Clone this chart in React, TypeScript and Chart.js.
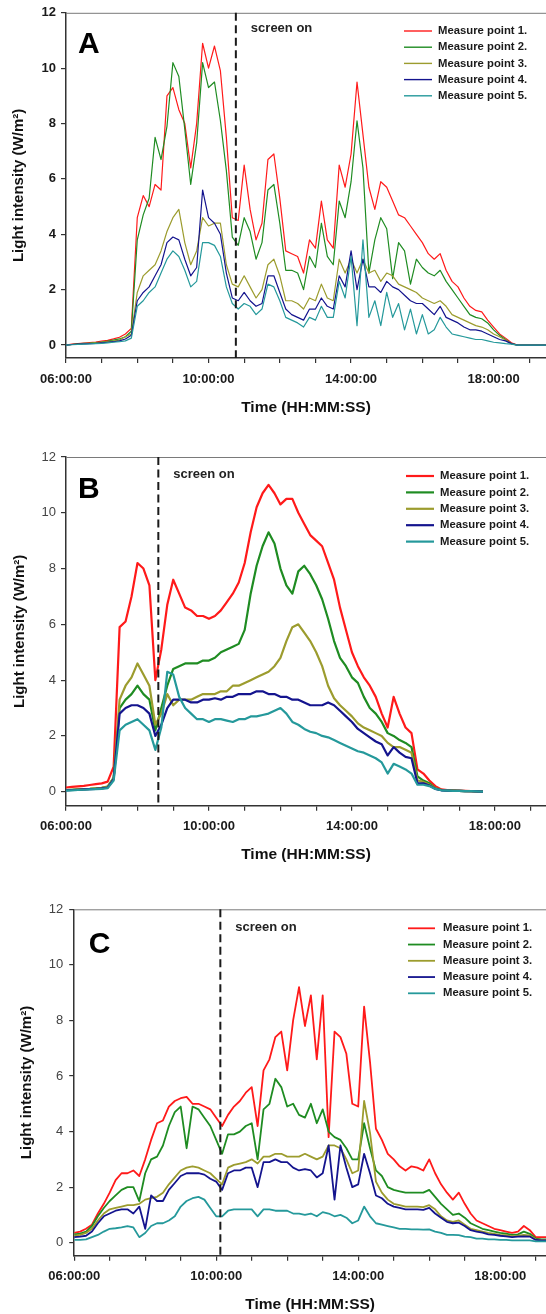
import React, { useEffect, useRef } from "react";
import { Chart, registerables } from "chart.js";

Chart.register(...registerables);
Chart.defaults.font.family = "'Liberation Sans', Arial, Helvetica, sans-serif";

// ---------- shared labels ----------
const SERIES_NAMES = [
  "Measure point 1.",
  "Measure point 2.",
  "Measure point 3.",
  "Measure point 4.",
  "Measure point 5.",
];
const X_TICK_HOURS = [6, 10, 14, 18];
const X_TICK_LABELS = ["06:00:00", "10:00:00", "14:00:00", "18:00:00"];
const X_TITLE = "Time (HH:MM:SS)";
const Y_TITLE = "Light intensity (W/m\u00B2)";
const SCREEN_TEXT = "screen on";

// sampling grid: 10-minute steps starting 06:00 (hours)
const TIMES_A = Array.from({ length: 82 }, (_, i) => 6 + i / 6); // 06:00 .. 19:30
const TIMES_B = Array.from({ length: 71 }, (_, i) => 6 + i / 6); // 06:00 .. 17:40
const TIMES_C = Array.from({ length: 82 }, (_, i) => 6 + i / 6); // 06:00 .. 19:30

// "screen on" moments (hours)
const SCREEN_ON_A = 10 + 46 / 60;
const SCREEN_ON_B = 8 + 35 / 60;
const SCREEN_ON_C = 10 + 7 / 60;

// ---------- Panel A (W/m2) ----------
const A_P1 = [
  0.0, 0.03, 0.05, 0.07, 0.09, 0.11,
  0.14, 0.17, 0.22, 0.28, 0.4, 0.6,
  4.6, 5.4, 5.0, 5.8, 5.6, 9.0,
  9.3, 8.5, 8.0, 6.4, 8.0, 10.9,
  10.0, 10.8, 9.9, 7.5, 4.6, 4.5,
  6.5, 4.9, 3.8, 4.4, 6.7, 6.9,
  5.3, 3.4, 3.3, 3.2, 2.6, 3.8,
  3.5, 5.2, 3.8, 3.5, 6.5, 5.7,
  6.9, 9.5, 7.6, 5.7, 4.9, 5.9,
  5.7, 5.2, 4.7, 4.6, 4.3, 4.0,
  3.7, 3.3, 3.1, 3.3, 2.7, 2.3,
  2.1, 1.7, 1.4, 1.25, 1.2, 0.9,
  0.65, 0.4, 0.25, 0.08, 0.0, 0.0,
  0.0, 0.0, 0.0, 0.0,
];
const A_P2 = [
  0.0, 0.02, 0.04, 0.06, 0.07, 0.09,
  0.11, 0.14, 0.18, 0.22, 0.3, 0.5,
  3.8, 4.7, 5.3, 7.5, 6.7, 7.9,
  10.2, 9.7, 7.8, 5.8, 7.3, 10.2,
  9.3, 9.5, 8.1, 6.3, 3.9, 3.6,
  4.6, 4.1, 3.1, 3.7, 5.6, 5.8,
  4.4, 2.7, 2.7, 2.6, 2.0, 3.2,
  2.8, 4.4, 3.2, 2.9, 5.2, 4.6,
  5.9, 8.1, 6.4, 2.6, 3.8, 4.6,
  4.2, 2.4, 3.7, 3.4, 2.2, 3.1,
  2.8, 2.6, 2.5, 2.7, 2.3, 2.0,
  1.7, 1.4, 1.1, 1.0, 0.95, 0.8,
  0.55, 0.35, 0.2, 0.05, 0.0, 0.0,
  0.0, 0.0, 0.0, 0.0,
];
const A_P3 = [
  0.0, 0.02, 0.03, 0.05, 0.06, 0.08,
  0.1, 0.12, 0.15, 0.18, 0.3, 0.4,
  1.9, 2.5, 2.7, 2.9, 3.4, 4.1,
  4.6, 4.9, 3.7, 2.9, 3.4, 4.6,
  4.3, 4.4, 4.4, 2.9, 2.2, 2.1,
  2.5, 2.1, 1.7, 2.0, 2.9, 3.1,
  2.5, 1.6, 1.6, 1.5, 1.3, 1.7,
  1.6, 2.2, 1.7, 1.6, 3.1, 2.6,
  3.1, 2.6, 3.1, 2.6, 2.7, 2.3,
  2.6, 2.5, 2.2, 2.1, 2.0, 1.9,
  1.7, 1.6, 1.5, 1.6, 1.4, 1.1,
  1.0, 0.9, 0.8, 0.7, 0.65, 0.55,
  0.4, 0.3, 0.18, 0.05, 0.0, 0.0,
  0.0, 0.0, 0.0, 0.0,
];
const A_P4 = [
  0.0, 0.02, 0.03, 0.04, 0.05, 0.06,
  0.08, 0.1, 0.12, 0.15, 0.22, 0.35,
  1.6, 1.9, 2.1, 2.5, 2.9, 3.7,
  3.9, 3.8, 3.1, 2.5, 2.8, 5.6,
  4.6, 4.4, 4.0, 2.6, 1.7, 1.6,
  1.9, 1.6, 1.4, 1.5, 2.5, 2.5,
  1.9, 1.3, 1.1, 1.0, 0.9, 1.3,
  1.3, 1.7, 1.4, 1.3, 2.5, 2.1,
  3.4, 2.0, 3.1, 2.1, 2.1, 1.9,
  2.3, 2.1, 2.0, 1.8, 1.6, 1.5,
  1.5, 1.3, 1.1, 1.4, 1.0, 0.9,
  0.8, 0.65, 0.55, 0.55, 0.5, 0.4,
  0.3, 0.2, 0.15, 0.05, 0.0, 0.0,
  0.0, 0.0, 0.0, 0.0,
];
const A_P5 = [
  0.0, 0.01, 0.02, 0.03, 0.04, 0.05,
  0.06, 0.08, 0.1, 0.12, 0.15, 0.25,
  1.4, 1.6, 1.9, 2.1, 2.6, 3.1,
  3.4, 3.2, 2.7, 2.1, 2.3, 3.7,
  3.7, 3.6, 3.2, 2.1, 1.5, 1.3,
  1.5, 1.4, 1.1, 1.3, 2.2, 2.1,
  1.6, 1.0, 0.9, 0.8, 0.65, 1.0,
  0.9, 1.4, 1.0, 1.0, 2.3, 1.7,
  3.2, 0.7, 3.8, 1.0, 1.6, 0.7,
  1.9, 1.0, 1.5, 0.55, 1.3, 0.4,
  1.1, 0.4, 0.55, 1.0, 0.65, 0.4,
  0.35, 0.3, 0.25, 0.2, 0.2, 0.15,
  0.1, 0.08, 0.05, 0.03, 0.0, 0.0,
  0.0, 0.0, 0.0, 0.0,
];

// ---------- Panel B (W/m2) ----------
const B_P1 = [
  0.15, 0.17, 0.19, 0.21, 0.24, 0.27,
  0.3, 0.36, 0.9, 5.9, 6.1, 7.0,
  8.2, 8.0, 7.4, 4.0, 5.1, 6.7,
  7.6, 7.1, 6.6, 6.5, 6.3, 6.3,
  6.2, 6.3, 6.5, 6.8, 7.1, 7.5,
  8.2, 9.3, 10.2, 10.7, 11.0, 10.7,
  10.3, 10.5, 10.5, 10.0, 9.6, 9.2,
  9.0, 8.8, 8.2, 7.6, 6.6, 5.8,
  5.0, 4.5, 4.1, 3.8, 3.4, 2.8,
  2.3, 3.4, 2.8, 2.3, 2.1, 0.8,
  0.65, 0.4, 0.2, 0.08, 0.06, 0.05,
  0.04, 0.03, 0.02, 0.01, 0.0,
];
const B_P2 = [
  0.06, 0.07, 0.08, 0.09, 0.1, 0.12,
  0.14, 0.18, 0.5, 3.0, 3.3, 3.5,
  3.8, 3.5, 3.3, 2.2, 3.0, 3.8,
  4.4, 4.5, 4.6, 4.6, 4.6, 4.7,
  4.7, 4.8, 5.0, 5.1, 5.2, 5.3,
  5.8, 7.1, 8.1, 8.8, 9.3, 8.9,
  8.0, 7.4, 7.1, 7.9, 8.1, 7.8,
  7.4, 6.9, 6.2, 5.4, 4.8, 4.5,
  4.1, 3.9, 3.4, 3.0, 2.8, 2.5,
  2.1, 2.0, 1.85, 1.75, 1.6, 0.55,
  0.4, 0.3, 0.12, 0.06, 0.05, 0.04,
  0.03, 0.02, 0.02, 0.01, 0.0,
];
const B_P3 = [
  0.06, 0.07, 0.08, 0.09, 0.1, 0.12,
  0.14, 0.18, 0.5, 3.3, 3.8, 4.1,
  4.6, 4.2, 3.8, 2.4, 2.8, 3.5,
  3.1, 3.3, 3.3, 3.3, 3.4, 3.5,
  3.5, 3.5, 3.6, 3.6, 3.8, 3.8,
  3.9, 4.0, 4.1, 4.2, 4.3, 4.5,
  4.8, 5.4, 5.9, 6.0, 5.7, 5.4,
  5.0, 4.5, 3.8, 3.35, 3.1, 2.9,
  2.7, 2.45, 2.3, 2.2, 2.1, 2.0,
  1.75, 1.6, 1.6, 1.5, 1.4, 0.4,
  0.35, 0.25, 0.12, 0.06, 0.05, 0.04,
  0.03, 0.02, 0.02, 0.01, 0.0,
];
const B_P4 = [
  0.05, 0.06, 0.07, 0.08, 0.09, 0.1,
  0.12, 0.15, 0.45, 2.8, 3.0, 3.1,
  3.1, 3.0, 2.8, 2.0, 2.4, 3.0,
  3.3, 3.3, 3.3, 3.2, 3.2, 3.3,
  3.3, 3.35, 3.3, 3.4, 3.4, 3.5,
  3.5, 3.5, 3.6, 3.6, 3.5, 3.5,
  3.4, 3.4, 3.3, 3.3, 3.2, 3.1,
  3.1, 3.1, 3.2, 3.1, 2.9, 2.7,
  2.5, 2.25, 2.1, 1.95, 1.8, 1.7,
  1.3, 1.6, 1.4, 1.25, 1.2, 0.3,
  0.3, 0.22, 0.1, 0.05, 0.04, 0.03,
  0.03, 0.02, 0.02, 0.01, 0.0,
];
const B_P5 = [
  0.04, 0.05, 0.06, 0.07, 0.08, 0.09,
  0.1, 0.13, 0.4, 2.2, 2.4, 2.5,
  2.6, 2.4, 2.2, 1.5, 2.3, 4.3,
  4.2, 3.4, 3.0, 2.8, 2.6, 2.6,
  2.5, 2.6, 2.6, 2.55, 2.5, 2.6,
  2.6, 2.7, 2.7, 2.75, 2.8, 2.9,
  3.0, 2.8, 2.5, 2.4, 2.25, 2.15,
  2.1, 2.0, 1.95, 1.85, 1.75, 1.65,
  1.55, 1.45, 1.4, 1.3, 1.2, 1.05,
  0.65, 1.0, 0.9, 0.8, 0.65, 0.25,
  0.25, 0.2, 0.1, 0.05, 0.04, 0.03,
  0.03, 0.02, 0.02, 0.01, 0.0,
];

// ---------- Panel C (W/m2) ----------
const C_P1 = [
  0.35, 0.4, 0.5, 0.65, 1.05, 1.4,
  1.8, 2.25, 2.5, 2.5, 2.6, 2.4,
  3.0, 3.7, 4.3, 4.4, 4.9, 5.1,
  5.2, 5.25, 5.0, 5.0, 4.9, 4.8,
  4.5, 4.2, 4.6, 4.9, 5.1, 5.4,
  5.6, 4.2, 6.2, 6.6, 7.4, 7.6,
  6.2, 8.0, 9.2, 7.8, 8.9, 6.6,
  8.9, 3.8, 7.6, 7.4, 6.8, 5.0,
  4.9, 8.5, 6.5, 4.1, 3.7, 3.2,
  3.0, 2.75, 2.6, 2.75, 2.7, 2.6,
  3.0, 2.5, 2.1, 1.8, 1.55, 1.8,
  1.4, 1.05, 0.8, 0.7, 0.6, 0.5,
  0.45, 0.4, 0.35, 0.4, 0.6, 0.45,
  0.2, 0.2, 0.2, 0.2,
];
const C_P2 = [
  0.3, 0.33, 0.4, 0.6, 0.95, 1.25,
  1.5, 1.7, 1.9, 2.0, 2.0, 1.5,
  2.5, 3.0, 3.1, 3.5, 4.2, 4.7,
  4.9, 3.4, 4.9, 4.8, 4.5, 4.2,
  3.7, 3.2, 3.9, 3.9, 4.0, 4.2,
  4.3, 3.0, 4.8, 5.0, 5.9, 5.6,
  4.9, 5.0, 4.6, 4.5, 5.0, 4.3,
  4.8, 4.0, 3.8, 3.7, 3.4, 3.0,
  3.0, 4.3, 3.4, 2.6, 2.4, 2.0,
  1.9, 1.85, 1.8, 1.8, 1.8, 1.8,
  1.9, 1.65, 1.4, 1.2, 1.0, 1.05,
  0.9, 0.7, 0.6, 0.5, 0.45, 0.4,
  0.35, 0.33, 0.28, 0.3, 0.4, 0.32,
  0.15, 0.12, 0.12, 0.12,
];
const C_P3 = [
  0.25, 0.28, 0.35, 0.5, 0.8, 1.05,
  1.2, 1.25, 1.3, 1.35, 1.35, 1.4,
  1.55, 1.6, 1.65, 1.8, 2.1, 2.35,
  2.6, 2.7, 2.75, 2.7, 2.6, 2.5,
  2.3, 2.1, 2.7, 2.8, 2.85, 2.9,
  3.0, 2.85, 3.1, 3.1, 3.2, 3.2,
  3.1, 3.1, 3.1, 3.2, 3.1, 3.0,
  3.1, 3.5, 3.5, 3.4, 3.0, 2.5,
  2.6, 5.1, 3.95, 2.2, 1.8, 1.55,
  1.4, 1.35, 1.3, 1.3, 1.3, 1.28,
  1.35, 1.2, 0.95, 0.8, 0.75, 0.8,
  0.65, 0.5, 0.45, 0.4, 0.35, 0.32,
  0.28, 0.27, 0.23, 0.25, 0.28, 0.26,
  0.12, 0.1, 0.1, 0.1,
];
const C_P4 = [
  0.2, 0.22, 0.25, 0.4, 0.7, 0.95,
  1.05, 1.15, 1.2, 1.2, 1.05, 1.3,
  0.5, 1.7, 1.5, 1.5, 1.9, 2.15,
  2.4, 2.5, 2.5, 2.5, 2.45, 2.3,
  2.2, 1.9, 2.5, 2.6, 2.6, 2.7,
  2.7, 2.0, 2.9, 2.9, 3.0, 2.9,
  2.9, 2.7, 2.6, 2.65, 2.6, 2.35,
  2.5, 3.5, 1.55, 3.5, 2.7, 2.0,
  2.1, 3.2, 2.5, 1.7, 1.6, 1.4,
  1.3, 1.25, 1.2, 1.2, 1.2, 1.18,
  1.25, 1.05, 0.9, 0.75, 0.7, 0.72,
  0.6, 0.45, 0.4, 0.36, 0.3, 0.28,
  0.25, 0.23, 0.2, 0.22, 0.23, 0.22,
  0.1, 0.08, 0.08, 0.08,
];
const C_P5 = [
  0.1, 0.1, 0.12, 0.2, 0.28, 0.4,
  0.5, 0.52, 0.55, 0.6, 0.55, 0.2,
  0.35, 0.6, 0.7, 0.7, 0.8, 0.95,
  1.3, 1.5, 1.6, 1.65, 1.55, 1.25,
  0.95, 0.95, 1.15, 1.2, 1.2, 1.2,
  1.2, 0.95, 1.2, 1.2, 1.15, 1.15,
  1.15, 1.05, 1.05, 1.0, 1.05, 0.95,
  1.1, 1.05, 0.95, 1.0, 0.9, 0.7,
  0.8, 1.3, 0.95, 0.7, 0.65, 0.6,
  0.55, 0.5, 0.5, 0.48, 0.48, 0.47,
  0.48, 0.4, 0.35, 0.28, 0.28, 0.27,
  0.22, 0.2, 0.15, 0.15, 0.12, 0.12,
  0.1, 0.1, 0.08, 0.08, 0.08, 0.08,
  0.05, 0.05, 0.05, 0.05,
];

// ---------- styles ----------
const COLORS = ["#ff1a1a", "#1f8c22", "#9c9c2e", "#14148e", "#25999b"];

type PanelCfg = {
  letter: string;
  times: number[];
  series: number[][];
  screenOn: number;
  top: number;
  height: number;
  padTop: number;
  xAxisH: number;
  yAxisW: number;
  xMax: number;
  yMin: number;
  xTickPad: number;
  xTitlePad: number;
  yTickPad: number;
  yTitlePad: number;
  yTickBold: boolean;
  lineWidth: number;
  letterDx: number;
  letterBase: number;
  screenBase: number;
  legX: number;
  legLen: number;
  legTextX: number;
  legY0: number;
  legDy: number;
};

const PANELS: PanelCfg[] = [
  {
    letter: "A", times: TIMES_A, series: [A_P1, A_P2, A_P3, A_P4, A_P5], screenOn: SCREEN_ON_A,
    top: 0, height: 440, padTop: 12, xAxisH: 82, yAxisW: 66, xMax: 19.47, yMin: -0.468,
    xTickPad: 9, xTitlePad: 22.7, yTickPad: 5, yTitlePad: 10, yTickBold: true, lineWidth: 1.2,
    letterDx: 12, letterBase: 53, screenBase: 32,
    legX: 404, legLen: 28, legTextX: 438, legY0: 31, legDy: 16.2,
  },
  {
    letter: "B", times: TIMES_B, series: [B_P1, B_P2, B_P3, B_P4, B_P5], screenOn: SCREEN_ON_B,
    top: 440, height: 440, padTop: 17, xAxisH: 74.3, yAxisW: 66, xMax: 19.43, yMin: -0.502,
    xTickPad: 8.2, xTitlePad: 16.4, yTickPad: 5, yTitlePad: 11, yTickBold: false, lineWidth: 2.2,
    letterDx: 12, letterBase: 58.3, screenBase: 38,
    legX: 406, legLen: 28, legTextX: 440, legY0: 36, legDy: 16.4,
  },
  {
    letter: "C", times: TIMES_C, series: [C_P1, C_P2, C_P3, C_P4, C_P5], screenOn: SCREEN_ON_C,
    top: 890, height: 424, padTop: 19.3, xAxisH: 58.3, yAxisW: 74.2, xMax: 19.29, yMin: -0.468,
    xTickPad: 8.2, xTitlePad: 0, yTickPad: 6, yTitlePad: 18, yTickBold: false, lineWidth: 1.8,
    letterDx: 14.6, letterBase: 63, screenBase: 41,
    legX: 408, legLen: 27, legTextX: 443, legY0: 38.3, legDy: 16.25,
  },
];

const FONT = "'Liberation Sans', Arial, Helvetica, sans-serif";

function Panel({ cfg }: { cfg: PanelCfg }) {
  const ref = useRef<HTMLCanvasElement | null>(null);

  useEffect(() => {
    const canvas = ref.current;
    if (!canvas) return;

    const overlay = {
      id: "overlay",
      afterDatasetsDraw(chart: any) {
        const { ctx, chartArea, scales } = chart;
        ctx.save();
        // top frame line
        ctx.strokeStyle = "#7a7a7a";
        ctx.lineWidth = 1;
        ctx.beginPath();
        ctx.moveTo(chartArea.left, chartArea.top + 0.5);
        ctx.lineTo(chartArea.right, chartArea.top + 0.5);
        ctx.stroke();

        // screen-on dashed line
        const sx = scales.x.getPixelForValue(cfg.screenOn);
        ctx.strokeStyle = "#1a1a1a";
        ctx.lineWidth = 2;
        ctx.setLineDash([8, 4.5]);
        ctx.beginPath();
        ctx.moveTo(sx, chartArea.top);
        ctx.lineTo(sx, chartArea.bottom);
        ctx.stroke();
        ctx.setLineDash([]);

        // screen-on text
        ctx.fillStyle = "#222";
        ctx.font = `bold 13px ${FONT}`;
        ctx.textAlign = "left";
        ctx.textBaseline = "alphabetic";
        ctx.fillText(SCREEN_TEXT, sx + 15, cfg.screenBase);

        // panel letter
        ctx.fillStyle = "#000";
        ctx.font = `bold 30px ${FONT}`;
        ctx.fillText(cfg.letter, chartArea.left + cfg.letterDx, cfg.letterBase);

        // legend
        ctx.font = `bold 11.3px ${FONT}`;
        ctx.textBaseline = "middle";
        SERIES_NAMES.forEach((name, k) => {
          const y = cfg.legY0 + k * cfg.legDy;
          ctx.strokeStyle = COLORS[k];
          ctx.lineWidth = Math.max(1.4, cfg.lineWidth);
          ctx.beginPath();
          ctx.moveTo(cfg.legX, y);
          ctx.lineTo(cfg.legX + cfg.legLen, y);
          ctx.stroke();
          ctx.fillStyle = "#1a1a1a";
          ctx.fillText(name, cfg.legTextX, y);
        });
        ctx.restore();
      },
    };

    const chart = new Chart(canvas, {
      type: "line",
      data: {
        datasets: cfg.series.map((vals, k) => ({
          label: SERIES_NAMES[k],
          data: vals.map((v, i) => ({ x: cfg.times[i], y: v })),
          borderColor: COLORS[k],
          backgroundColor: COLORS[k],
          borderWidth: cfg.lineWidth,
          pointRadius: 0,
          tension: 0,
          borderJoinStyle: "round" as const,
          order: 4 - k,
        })),
      },
      options: {
        animation: false,
        responsive: false,
        devicePixelRatio: 1,
        events: [],
        layout: { padding: { top: cfg.padTop, left: 0, right: 0, bottom: 0 } },
        plugins: {
          legend: { display: false },
          tooltip: { enabled: false },
        },
        scales: {
          x: {
            type: "linear",
            min: 6,
            max: cfg.xMax,
            afterFit: (s: any) => {
              s.height = cfg.xAxisH;
            },
            ticks: {
              stepSize: 1,
              autoSkip: false,
              maxRotation: 0,
              includeBounds: false,
              padding: cfg.xTickPad,
              color: "#1a1a1a",
              font: { size: 13, weight: "bold" },
              callback: (value: any) => {
                const idx = X_TICK_HOURS.indexOf(Number(value));
                return idx >= 0 ? X_TICK_LABELS[idx] : "";
              },
            },
            grid: {
              drawOnChartArea: false,
              drawTicks: true,
              tickLength: 5,
              color: "#333",
              lineWidth: 1.2,
            },
            border: { display: true, color: "#333", width: 1.5 },
            title: {
              display: true,
              text: X_TITLE,
              color: "#111",
              font: { size: 15.5, weight: "bold" },
              padding: { top: 0, bottom: cfg.xTitlePad },
            },
          },
          y: {
            type: "linear",
            min: cfg.yMin,
            max: 12,
            afterFit: (s: any) => {
              s.width = cfg.yAxisW;
            },
            ticks: {
              stepSize: 2,
              autoSkip: false,
              includeBounds: false,
              padding: cfg.yTickPad,
              color: cfg.yTickBold ? "#1a1a1a" : "#444",
              font: { size: 13, weight: cfg.yTickBold ? "bold" : "normal" },
            },
            grid: {
              drawOnChartArea: false,
              drawTicks: true,
              tickLength: 5,
              color: "#333",
              lineWidth: 1.2,
            },
            border: { display: true, color: "#333", width: 1.5 },
            title: {
              display: true,
              text: Y_TITLE,
              color: "#111",
              font: { size: 15, weight: "bold" },
              padding: { top: cfg.yTitlePad, bottom: 0 },
            },
          },
        },
      },
      plugins: [overlay],
    } as any);

    return () => chart.destroy();
  }, [cfg]);

  return (
    <canvas
      ref={ref}
      width={546}
      height={cfg.height}
      style={{
        position: "absolute",
        left: 0,
        top: cfg.top,
        width: 546,
        height: cfg.height,
        display: "block",
      }}
    />
  );
}

export default function App() {
  return (
    <div
      style={{
        position: "absolute",
        left: 0,
        top: 0,
        width: 546,
        height: 1314,
        background: "#fff",
        overflow: "hidden",
      }}
    >
      {PANELS.map((p) => (
        <Panel key={p.letter} cfg={p} />
      ))}
    </div>
  );
}
